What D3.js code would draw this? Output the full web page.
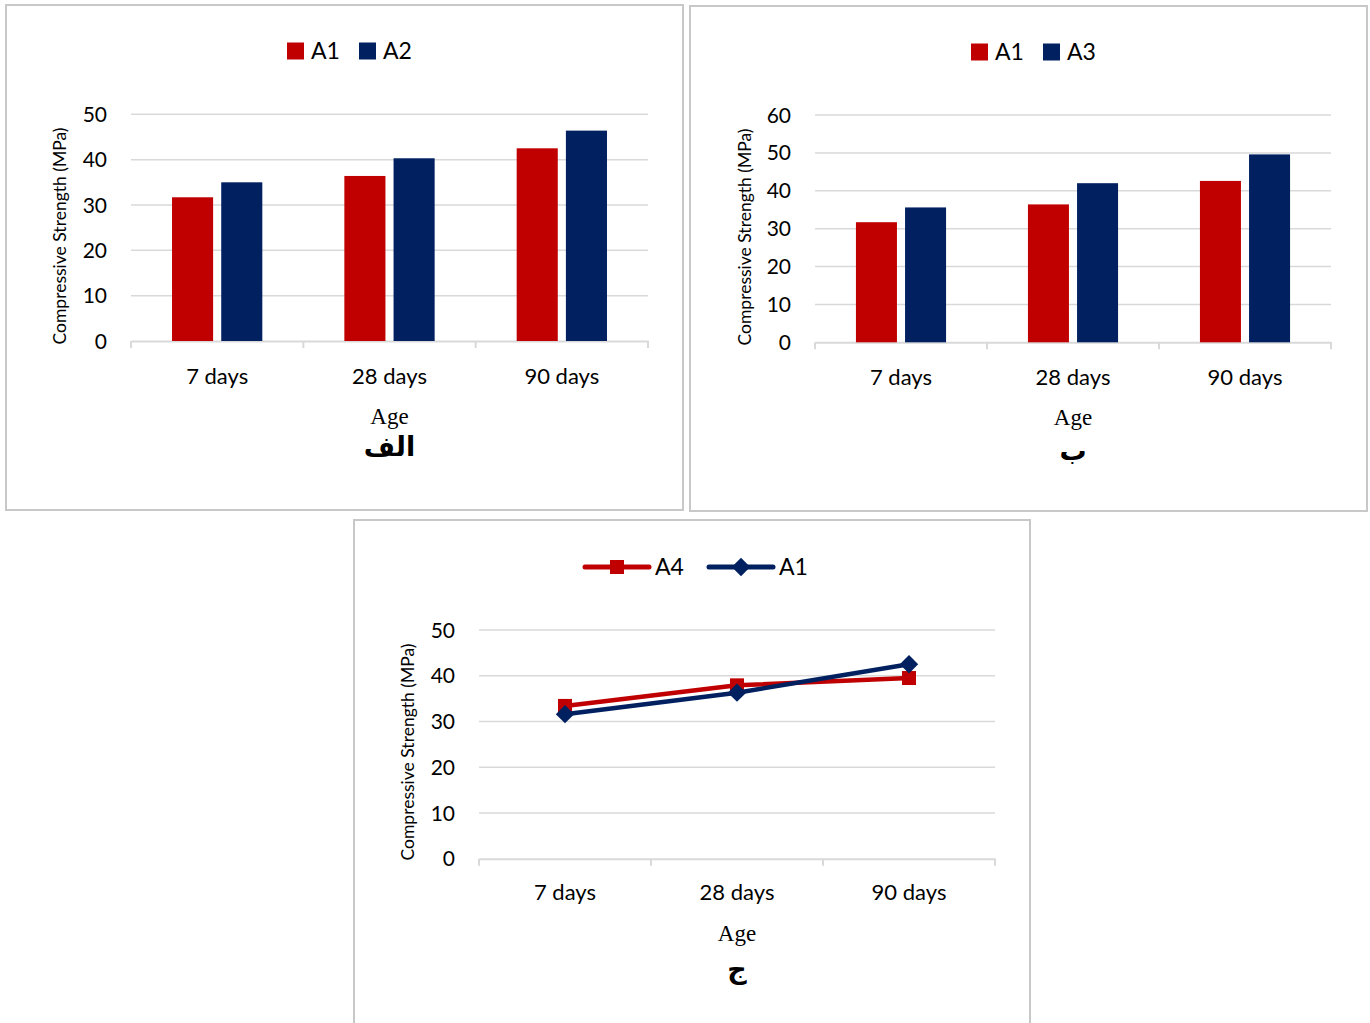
<!DOCTYPE html>
<html><head><meta charset="utf-8">
<script src="https://cdn.jsdelivr.net/npm/d3@7/dist/d3.min.js"></script>
<style>body{margin:0;background:#fff}</style>
</head><body>
<svg id="c" width="1370" height="1023"></svg>
<script>
// ---- data ----
const ages = ["7 days", "28 days", "90 days"];
const panelA_series = ["A1", "A2"];
const panelA_A1 = [31.7, 36.4, 42.5];
const panelA_A2 = [35.0, 40.3, 46.4];
const panelA_ticks = [0, 10, 20, 30, 40, 50];
const panelB_series = ["A1", "A3"];
const panelB_A1 = [31.7, 36.4, 42.6];
const panelB_A3 = [35.6, 42.0, 49.6];
const panelB_ticks = [0, 10, 20, 30, 40, 50, 60];
const panelC_series = ["A4", "A1"];
const panelC_A4 = [33.4, 37.9, 39.5];
const panelC_A1 = [31.6, 36.3, 42.5];
const panelC_ticks = [0, 10, 20, 30, 40, 50];
const yTitle = "Compressive Strength (MPa)";
const xTitle = "Age";
const panelLabels = ["الف", "ب", "ج"];

const RED = "#C00000", NAVY = "#002060", GRID = "#d9d9d9";
const SANS = "Lato, 'Open Sans', sans-serif";
const svg = d3.select("#c");

function marker(sel, kind, cx, cy, color) {
  if (kind === "square") {
    sel.append("rect").attr("x", cx - 7).attr("y", cy - 7).attr("width", 14).attr("height", 14).attr("fill", color);
  } else {
    sel.append("rect").attr("x", -6.5).attr("y", -6.5).attr("width", 13).attr("height", 13).attr("fill", color)
      .attr("transform", `translate(${cx},${cy}) rotate(45)`);
  }
}

function panel(cfg) {
  const g = svg.append("g");
  g.append("rect").attr("x", cfg.box[0]).attr("y", cfg.box[1]).attr("width", cfg.box[2]).attr("height", cfg.box[3])
    .attr("fill", "#fff").attr("stroke", "#c8c8c8").attr("stroke-width", 2);
  const x = d3.scaleBand().domain(ages).range([cfg.px0, cfg.px1]).padding(0);
  const y = d3.scaleLinear().domain([0, d3.max(cfg.ticks)]).range([cfg.pyB, cfg.pyT]);
  g.append("g").selectAll("line").data(cfg.ticks.filter(t => t > 0)).join("line")
    .attr("x1", cfg.px0).attr("x2", cfg.px1).attr("y1", d => y(d)).attr("y2", d => y(d))
    .attr("stroke", GRID).attr("stroke-width", 1.5);
  g.append("g").selectAll("text").data(cfg.ticks).join("text")
    .attr("x", cfg.px0 - 24).attr("y", d => y(d)).attr("dy", "0.36em")
    .attr("text-anchor", "end").attr("font-family", SANS).attr("font-size", 21).attr("fill", "#000")
    .text(d => d);
  const ax = g.append("g").attr("transform", `translate(0,${cfg.pyB})`)
    .call(d3.axisBottom(x).tickSize(0).tickFormat(""));
  ax.select(".domain").attr("stroke", GRID).attr("stroke-width", 2);
  const bounds = [cfg.px0].concat(ages.map(a => x(a) + x.bandwidth()));
  g.append("g").selectAll("line").data(bounds).join("line")
    .attr("x1", d => d).attr("x2", d => d).attr("y1", cfg.pyB).attr("y2", cfg.pyB + 7)
    .attr("stroke", GRID).attr("stroke-width", 2);
  g.append("g").selectAll("text").data(ages).join("text")
    .attr("x", d => x(d) + x.bandwidth() / 2).attr("y", cfg.catY).attr("dy", "0.36em")
    .attr("text-anchor", "middle").attr("font-family", SANS).attr("font-size", 22).attr("fill", "#000")
    .text(d => d);

  if (cfg.type === "bar") {
    const bw = x.bandwidth();
    const x1 = d3.scaleBand().domain(cfg.series).range([0.238 * bw, 0.762 * bw]).paddingInner(0.165);
    cfg.series.forEach((s, si) => {
      g.append("g").selectAll("rect").data(cfg.values[si]).join("rect")
        .attr("x", (d, i) => x(ages[i]) + x1(s)).attr("width", x1.bandwidth())
        .attr("y", d => y(d)).attr("height", d => y(0) - y(d))
        .attr("fill", cfg.colors[si]);
    });
    let lx = cfg.legX;
    cfg.series.forEach((s, si) => {
      g.append("rect").attr("x", lx).attr("y", cfg.legY - 8.5).attr("width", 17).attr("height", 17).attr("fill", cfg.colors[si]);
      g.append("text").attr("x", lx + 24).attr("y", cfg.legY).attr("dy", "0.36em")
        .attr("font-family", SANS).attr("font-size", 23).attr("fill", "#000").text(s);
      lx += 72;
    });
  } else {
    const cx = i => x(ages[i]) + x.bandwidth() / 2;
    cfg.series.forEach((s, si) => {
      const vals = cfg.values[si];
      const line = d3.line().x((d, i) => cx(i)).y(d => y(d));
      g.append("path").datum(vals).attr("d", line).attr("fill", "none")
        .attr("stroke", cfg.colors[si]).attr("stroke-width", 4.5).attr("stroke-linejoin", "round");
      const mg = g.append("g");
      vals.forEach((d, i) => marker(mg, cfg.markers[si], cx(i), y(d), cfg.colors[si]));
    });
    let lx = cfg.legX;
    cfg.series.forEach((s, si) => {
      g.append("line").attr("x1", lx).attr("x2", lx + 64).attr("y1", cfg.legY).attr("y2", cfg.legY)
        .attr("stroke", cfg.colors[si]).attr("stroke-width", 5).attr("stroke-linecap", "round");
      marker(g, cfg.markers[si], lx + 32, cfg.legY, cfg.colors[si]);
      g.append("text").attr("x", lx + 70).attr("y", cfg.legY).attr("dy", "0.36em")
        .attr("font-family", SANS).attr("font-size", 23).attr("fill", "#000").text(s);
      lx += 124;
    });
  }
  g.append("text").attr("transform", `translate(${cfg.ytX},${cfg.ytY}) rotate(-90)`)
    .attr("text-anchor", "middle").attr("dy", "0.36em").attr("font-family", SANS).attr("font-size", 17.5)
    .attr("fill", "#000").text(yTitle);
  const mid = (cfg.px0 + cfg.px1) / 2;
  g.append("text").attr("x", mid).attr("y", cfg.ageY).attr("dy", "0.36em").attr("text-anchor", "middle")
    .attr("font-family", "'Liberation Serif', 'Times New Roman', serif").attr("font-size", 23).attr("fill", "#000").text(xTitle);
  g.append("text").attr("x", mid).attr("y", cfg.labY).attr("dy", "0.36em").attr("text-anchor", "middle")
    .attr("font-family", "'DejaVu Sans', sans-serif").attr("font-weight", "bold").attr("font-size", 27).attr("fill", "#000").text(cfg.label);
}

panel({type: "bar", box: [6, 5, 677, 505], px0: 131, px1: 648, pyT: 114.3, pyB: 341, ticks: panelA_ticks,
  series: panelA_series, values: [panelA_A1, panelA_A2], colors: [RED, NAVY], legX: 287, legY: 51, catY: 376, ageY: 416, labY: 446,
  ytX: 60, ytY: 236, label: panelLabels[0]});
panel({type: "bar", box: [690, 6, 677, 505], px0: 815, px1: 1331, pyT: 115, pyB: 342.3, ticks: panelB_ticks,
  series: panelB_series, values: [panelB_A1, panelB_A3], colors: [RED, NAVY], legX: 971, legY: 52, catY: 377, ageY: 417, labY: 450,
  ytX: 745, ytY: 237, label: panelLabels[1]});
panel({type: "line", box: [354, 520, 676, 512], px0: 479, px1: 995, pyT: 630, pyB: 858.7, ticks: panelC_ticks,
  series: panelC_series, values: [panelC_A4, panelC_A1], colors: [RED, NAVY], markers: ["square", "diamond"],
  legX: 585, legY: 567, catY: 892, ageY: 933, labY: 968, ytX: 408, ytY: 752, label: panelLabels[2]});
</script>
</body></html>
